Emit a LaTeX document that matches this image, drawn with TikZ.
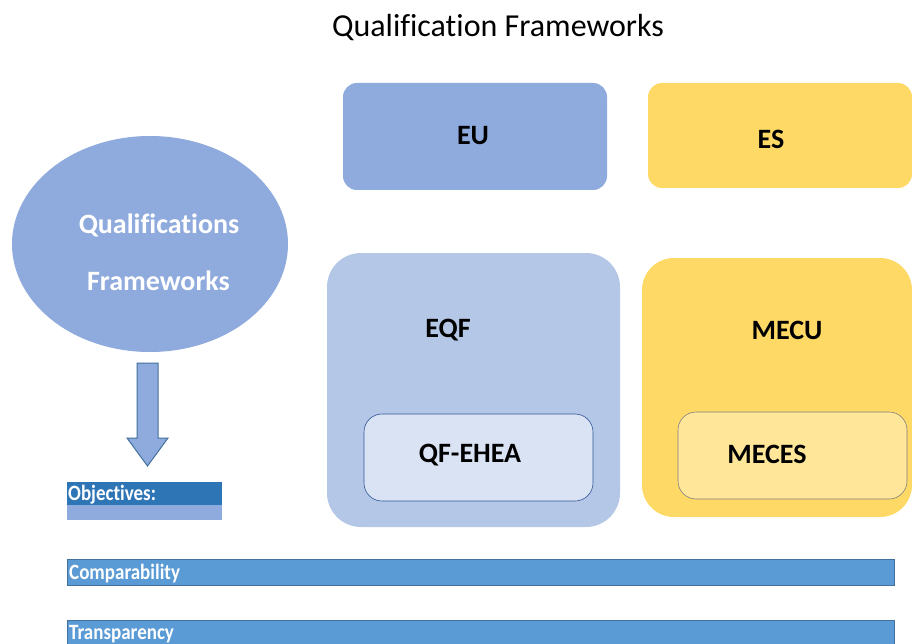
\documentclass[tikz,border=0pt]{standalone}
\usepackage{fontspec}
\usepackage{graphicx}
\setmainfont{Carlito}[Ligatures=NoCommon]
\usetikzlibrary{shapes.geometric}
\definecolor{eublue}{HTML}{8FAADC}
\definecolor{esyel}{HTML}{FFD966}
\definecolor{eqfblue}{HTML}{B4C7E7}
\definecolor{qfblue}{HTML}{DAE3F3}
\definecolor{qfedge}{HTML}{2F5597}
\definecolor{mecesyel}{HTML}{FFE699}
\definecolor{mecesedge}{HTML}{7F7F7F}
\definecolor{barblue}{HTML}{5B9BD5}
\definecolor{baredge}{HTML}{41719C}
\definecolor{objdark}{HTML}{2E75B6}
\newcommand{\tallsmall}[1]{\scalebox{1}[1.15]{#1}}
\tikzset{
  box/.style={rectangle, draw=none, inner sep=0pt},
  big/.style={font=\fontsize{28}{34}\selectfont\bfseries, text=black, inner sep=0pt},
  small/.style={font=\fontsize{19}{22}\selectfont\bfseries, text=white, inner sep=0pt, anchor=west},
  bar/.style={fill=barblue, draw=baredge, line width=0.8pt},
}
\begin{document}
\begin{tikzpicture}[x=1pt,y=-1pt]
\useasboundingbox (0,0) rectangle (912,644);
\fill[white] (0,0) rectangle (912,644);
% title
\node[font=\fontsize{32}{38}\selectfont, inner sep=0pt] (title) at (498,28) {Qualification Frameworks};
% top boxes
\node[box, fill=eublue, rounded corners=14pt, minimum width=264pt, minimum height=107pt] (eu) at (475,136.5) {};
\node[big] (eut) at (473,136) {EU};
\node[box, fill=esyel, rounded corners=14pt, minimum width=264pt, minimum height=105pt] (es) at (780,135.5) {};
\node[big] (est) at (771,139) {ES};
% ellipse
\node[ellipse, fill=eublue, minimum width=276pt, minimum height=216pt, inner sep=0pt] (qf) at (150,244) {};
\node[big, text=white] (qf1) at (159,225) {Qualifications};
\node[big, text=white] (qf2) at (158.5,281) {Frameworks};
% EQF
\node[box, fill=eqfblue, rounded corners=34pt, minimum width=293pt, minimum height=274pt] (eqf) at (473.5,390) {};
\node[big] (eqft) at (448,330) {EQF};
\node[box, fill=qfblue, draw=qfedge, line width=0.6pt, rounded corners=18pt, minimum width=229pt, minimum height=87pt] (ehea) at (478.5,457.5) {};
\node[big] (eheat) at (470,455) {QF-EHEA};
% MECU
\node[box, fill=esyel, rounded corners=32pt, minimum width=270pt, minimum height=259pt] (mecu) at (777,387.5) {};
\node[big] (mecut) at (787,330) {MECU};
\node[box, fill=mecesyel, draw=mecesedge, line width=0.6pt, rounded corners=18pt, minimum width=229pt, minimum height=87pt] (meces) at (792.5,455.5) {};
\node[big] (mecest) at (767,454) {MECES};
% arrow
\coordinate (a1) at (137,363);
\coordinate (a2) at (158,363);
\coordinate (a3) at (158,438);
\coordinate (a4) at (168,438);
\coordinate (a5) at (147.5,466);
\coordinate (a6) at (127,438);
\coordinate (a7) at (137,438);
\draw[fill=eublue, draw=baredge, line width=1pt, line join=miter] (a1) -- (a2) -- (a3) -- (a4) -- (a5) -- (a6) -- (a7) -- cycle;
% objectives
\coordinate (o1) at (67,482);
\coordinate (o2) at (222,505);
\coordinate (o3) at (67,505);
\coordinate (o4) at (222,520);
\fill[objdark] (o1) rectangle (o2);
\fill[eublue] (o3) rectangle (o4);
\node[small] (obj) at (68,495) {\tallsmall{Objectives:}};
% bars
\coordinate (c1) at (67,559);
\coordinate (c2) at (894,585);
\draw[bar] (c1) rectangle (c2);
\node[small] (comp) at (69,573.5) {\tallsmall{Comparability}};
\coordinate (t1) at (67,620);
\coordinate (t2) at (894,648);
\draw[bar] (t1) rectangle (t2);
\node[small] (trans) at (69,634.5) {\tallsmall{Transparency}};
\end{tikzpicture}
\end{document}
